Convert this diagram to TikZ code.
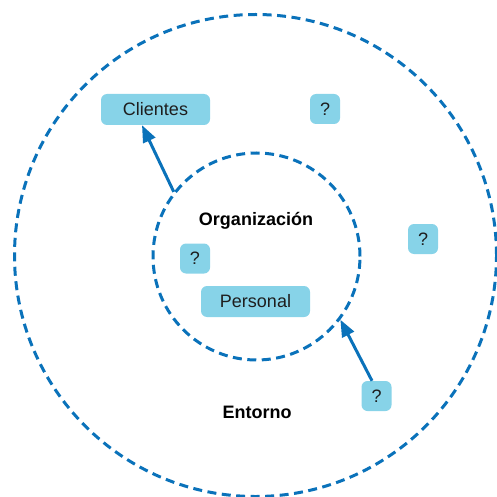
\documentclass[tikz,border=0pt]{standalone}
\usepackage{fontspec}
\setmainfont{Liberation Sans}
\usetikzlibrary{arrows.meta}
\definecolor{boxfill}{HTML}{87D3E8}
\definecolor{lineblue}{HTML}{0A72BA}
\definecolor{txt}{HTML}{1E1E1E}
\begin{document}
\begin{tikzpicture}[x=1pt,y=-1pt,
  ring/.style={draw=lineblue,line width=3pt,dash pattern=on 9pt off 5.5pt,circle,inner sep=0pt},
  tag/.style={fill=boxfill,rounded corners=6pt,inner sep=0pt,text=txt,font=\fontsize{18}{20}\selectfont},
  qbox/.style={tag,minimum width=30pt,minimum height=30pt},
  wbox/.style={tag,minimum width=109pt,minimum height=31pt},
  title/.style={font=\fontsize{18}{20}\selectfont\bfseries,text=black},
  link/.style={draw=lineblue,line width=3pt,-{Triangle[length=17pt,width=13pt]}}]
\useasboundingbox (0,0) rectangle (497,497);
\node[ring,minimum size=482pt] (outer) at (255.5,255.5) {};
\node[ring,minimum size=207pt] (inner) at (256.5,256.5) {};
\node[wbox] (clientes) at (155.5,109.5) {Clientes};
\node[qbox] (q1) at (325,109) {?};
\node[qbox] (q2) at (423,239) {?};
\node[title] (org) at (256,221) {Organización};
\node[qbox] (q3) at (195,258.5) {?};
\node[wbox] (personal) at (255.5,301.5) {Personal};
\node[qbox] (q4) at (376.5,396) {?};
\node[title] (entorno) at (257,412) {Entorno};
\coordinate (c1) at (inner.142.7);
\coordinate (c2) at (inner.-37);
\draw[link] (c1) -- (clientes.south west -| 142,0);
\draw[link] (q4.north west -| 372,0) -- (c2);
\end{tikzpicture}
\end{document}
